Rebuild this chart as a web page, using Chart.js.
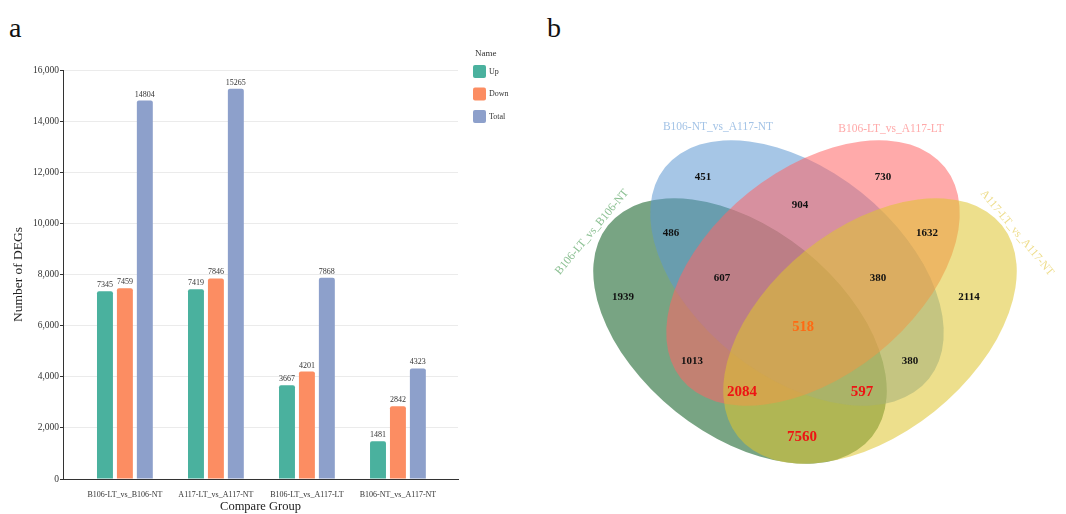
<!DOCTYPE html>
<html>
<head>
<meta charset="utf-8">
<script src="https://cdn.jsdelivr.net/npm/chart.js@4.4.1/dist/chart.umd.min.js"></script>
<style>
  body { margin: 0; background: #fff; width: 1066px; height: 514px; position: relative; overflow: hidden; font-family: "Liberation Serif", serif; }
  #barras { position: absolute; left: 0; top: 0; }
  #venn { position: absolute; left: 540px; top: 0; }
  .panel { position: absolute; font-size: 28px; line-height: 28px; color: #111; }
</style>
</head>
<body>
<div class="panel" style="left:9px; top:14px">a</div>
<div class="panel" style="left:547px; top:14px">b</div>
<canvas id="barras" width="540" height="514"></canvas>
<canvas id="venn" width="526" height="514"></canvas>
<script>
// datos del panel a
const grupos = ['B106-LT_vs_B106-NT', 'A117-LT_vs_A117-NT', 'B106-LT_vs_A117-LT', 'B106-NT_vs_A117-NT'];
const up = [7345, 7419, 3667, 1481];
const down = [7459, 7846, 4201, 2842];
const total = [14804, 15265, 7868, 4323];

// datos del panel b
const conjuntos = ['B106-LT_vs_B106-NT', 'B106-NT_vs_A117-NT', 'B106-LT_vs_A117-LT', 'A117-LT_vs_A117-NT'];
const regiones = [451, 730, 904, 486, 1632, 607, 380, 1939, 2114, 518, 1013, 380, 2084, 597, 7560];

const SERIF = '"Liberation Serif", "Times New Roman", serif';

// etiquetas de valor encima de cada barra
const etiquetas = {
  id: 'etiquetas',
  afterDatasetsDraw(chart) {
    const ctx = chart.ctx;
    ctx.save();
    ctx.font = `8px ${SERIF}`;
    ctx.fillStyle = '#333';
    ctx.textAlign = 'center';
    ctx.textBaseline = 'alphabetic';
    chart.data.datasets.forEach((ds, i) => {
      chart.getDatasetMeta(i).data.forEach((bar, j) => {
        ctx.fillText(ds.data[j].y, bar.x, bar.y - 4);
      });
    });
    ctx.restore();
  }
};

// leyenda "Name" a la derecha
const leyenda = {
  id: 'leyenda',
  afterDraw(chart) {
    const ctx = chart.ctx;
    ctx.save();
    ctx.textBaseline = 'middle';
    ctx.fillStyle = '#333';
    ctx.font = `9px ${SERIF}`;
    ctx.fillText('Name', 475, 54);
    ctx.font = `8px ${SERIF}`;
    chart.data.datasets.forEach((ds, i) => {
      const y = 65 + i * 22.5;
      ctx.fillStyle = ds.backgroundColor;
      ctx.beginPath();
      ctx.roundRect(473, y, 13, 13, 2);
      ctx.fill();
      ctx.fillStyle = '#333';
      ctx.fillText(ds.label, 489, y + 6.5);
    });
    ctx.restore();
  }
};

const aPuntos = (arr) => arr.map((v, i) => ({ x: i, y: v }));

new Chart(document.getElementById('barras'), {
  type: 'bar',
  data: {
    datasets: [
      { label: 'Up', data: aPuntos(up), backgroundColor: '#4AB19E' },
      { label: 'Down', data: aPuntos(down), backgroundColor: '#FC8D62' },
      { label: 'Total', data: aPuntos(total), backgroundColor: '#8DA0CB' }
    ]
  },
  options: {
    responsive: false,
    animation: false,
    layout: { padding: { top: 70, right: 82, bottom: 0, left: 0 } },
    datasets: { bar: { categoryPercentage: 0.657, barPercentage: 0.8, borderRadius: { topLeft: 2, topRight: 2 } } },
    plugins: { legend: { display: false }, tooltip: { enabled: false } },
    scales: {
      x: {
        type: 'linear',
        offset: false,
        min: -0.68,
        max: 3.66,
        grid: { display: false },
        border: { color: '#333' },
        ticks: {
          stepSize: 1, autoSkip: false, maxRotation: 0, includeBounds: false, padding: 3,
          color: '#333', font: { family: SERIF, size: 8 },
          callback: (v) => grupos[v] ?? ''
        },
        title: { display: true, text: 'Compare Group', color: '#222', font: { family: SERIF, size: 12.5 }, padding: { top: 0, bottom: 0 } },
        afterFit: (s) => { s.height = 35; }
      },
      y: {
        min: 0,
        max: 16000,
        grid: { color: '#ebebeb', tickColor: '#333', tickLength: 3 },
        border: { color: '#333' },
        ticks: {
          stepSize: 2000, padding: 1, color: '#333', font: { family: SERIF, size: 9.5 },
          callback: (v) => v.toLocaleString('en-US')
        },
        title: { display: true, text: 'Number of DEGs', color: '#222', font: { family: SERIF, size: 13.5 }, padding: { top: 10, bottom: 0 } },
        afterFit: (s) => { s.width = 63; }
      }
    }
  },
  plugins: [etiquetas, leyenda]
});

// geometría del diagrama de Venn (unidades de 100 px, eje y hacia arriba)
const EJE_A = 1.69, EJE_B = 1.03;
const elipses = [
  { cx: -0.65, cy: -0.31, rot: 38.7, fill: 'rgba(10,90,30,0.55)' },
  { cx: -0.08, cy: 0.27, rot: 38.7, fill: 'rgba(93,151,210,0.55)' },
  { cx: 0.08, cy: 0.27, rot: -38.7, fill: 'rgba(255,100,100,0.55)' },
  { cx: 0.65, cy: -0.31, rot: -38.7, fill: 'rgba(222,197,46,0.55)' }
];
const rotulos = [
  { x: -2.13, y: 0.68, rot: -50, color: '#8CC093' },
  { x: -0.87, y: 1.73, rot: 0, color: '#A3C3E6' },
  { x: 0.86, y: 1.71, rot: 0, color: '#FFA9A9' },
  { x: 2.12, y: 0.67, rot: 50, color: '#EEDD8C' }
];
const posiciones = [
  [-1.02, 1.23], [0.78, 1.23], [-0.05, 0.95], [-1.34, 0.67], [1.22, 0.67],
  [-0.83, 0.22], [0.73, 0.22], [-1.82, 0.03], [1.64, 0.03], [-0.02, -0.27],
  [-1.13, -0.61], [1.05, -0.61], [-0.63, -0.92], [0.57, -0.92], [-0.03, -1.37]
];
const estiloRegion = (n) => {
  if (n === 518) return { color: '#FF6A13', size: 14.5 };
  if (n === 2084 || n === 597 || n === 7560) return { color: '#EE1414', size: 15 };
  return { color: '#111', size: 11 };
};

const vennPlugin = {
  id: 'venn',
  beforeDatasetsDraw(chart) {
    const { ctx, scales: { x, y } } = chart;
    const rx = x.getPixelForValue(EJE_A) - x.getPixelForValue(0);
    const ry = x.getPixelForValue(EJE_B) - x.getPixelForValue(0);
    ctx.save();
    elipses.forEach((e) => {
      ctx.beginPath();
      ctx.ellipse(x.getPixelForValue(e.cx), y.getPixelForValue(e.cy), rx, ry, e.rot * Math.PI / 180, 0, Math.PI * 2);
      ctx.fillStyle = e.fill;
      ctx.fill();
    });
    ctx.font = `11.5px ${SERIF}`;
    ctx.textAlign = 'center';
    ctx.textBaseline = 'middle';
    conjuntos.forEach((nombre, i) => {
      const r = rotulos[i];
      ctx.save();
      ctx.translate(x.getPixelForValue(r.x), y.getPixelForValue(r.y));
      ctx.rotate(r.rot * Math.PI / 180);
      ctx.fillStyle = r.color;
      ctx.fillText(nombre, 0, 0);
      ctx.restore();
    });
    ctx.restore();
  },
  afterDatasetsDraw(chart) {
    const ctx = chart.ctx;
    ctx.save();
    ctx.textAlign = 'center';
    ctx.textBaseline = 'middle';
    chart.getDatasetMeta(0).data.forEach((pt, i) => {
      const n = regiones[i];
      const est = estiloRegion(n);
      ctx.font = `bold ${est.size}px ${SERIF}`;
      ctx.fillStyle = est.color;
      ctx.fillText(n, pt.x, pt.y);
    });
    ctx.restore();
  }
};

new Chart(document.getElementById('venn'), {
  type: 'scatter',
  data: {
    datasets: [{ data: posiciones.map((p) => ({ x: p[0], y: p[1] })), pointRadius: 0 }]
  },
  options: {
    responsive: false,
    animation: false,
    layout: { padding: 0 },
    plugins: { legend: { display: false }, tooltip: { enabled: false } },
    scales: {
      x: { display: false, min: -2.65, max: 2.61 },
      y: { display: false, min: -2.14, max: 3.0 }
    }
  },
  plugins: [vennPlugin]
});
</script>
</body>
</html>
